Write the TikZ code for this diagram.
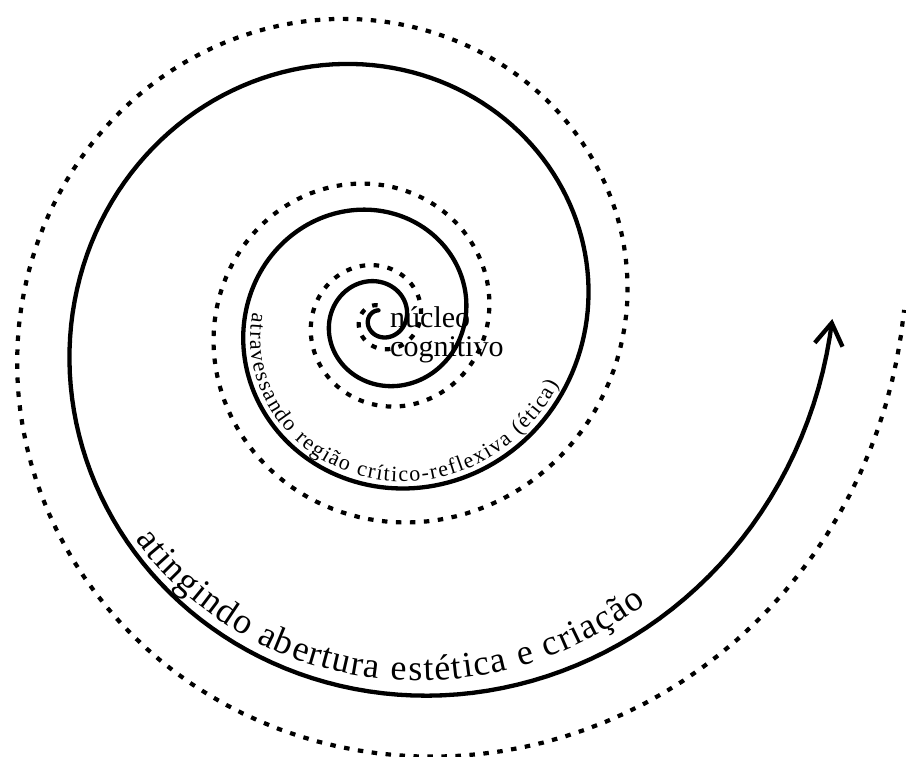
\documentclass[tikz,border=0pt]{standalone}
\usepackage{fontspec}
\setmainfont{Liberation Serif}
\usepackage{tikz}
\usetikzlibrary{arrows.meta, decorations.text}

\begin{document}
\begin{tikzpicture}[
    x=1pt, y=1pt,
    declare function={
      rs(\x) = 29.2*exp(0.001952*\x) - 33.9 + 14*exp(-\x/150);
      rm(\x) = 33*exp(0.001952*\x) - 26.3;
      ra(\x) = rs(\x) - 8 - 12*(\x-1302)/91;
    },
    spiralline/.style={line width=4.3pt, line cap=round, line join=round},
    markline/.style={line width=4.2pt, dash pattern=on 5.5pt off 8.5pt},
    arrowline/.style={spiralline, -{Straight Barb[length=22pt, width=28pt]}},
    pathtext/.style={decorate, decoration={text along path, text align={fit to path}, text={#1}}}
]
\useasboundingbox (0,0) rectangle (906,756);

% Spirals
\draw[markline] plot[domain=100:1441, samples=500] ({380+rm(\x)*cos(\x)}, {437+rm(\x)*sin(\x)});
\draw[arrowline] plot[domain=100:1440, samples=600] ({380+rs(\x)*cos(\x)}, {437+rs(\x)*sin(\x)});

% Labels
\node[anchor=west, align=left, inner sep=0pt, font=\fontsize{30}{29}\selectfont] (nucleo) at (390,421) {núcleo\\cognitivo};

\path[pathtext={|\fontsize{22}{26}\selectfont|atravessando região crítico-reflexiva (ética)}]
  plot[domain=897:1060, samples=80] ({380+(rs(\x)-7)*cos(\x)}, {437+(rs(\x)-7)*sin(\x)});

\path[pathtext={|\fontsize{36}{40}\selectfont|atingindo abertura estética e criação}]
  plot[domain=1302:1393, samples=80] ({380+ra(\x)*cos(\x)}, {437+ra(\x)*sin(\x)});

\end{tikzpicture}
\end{document}
